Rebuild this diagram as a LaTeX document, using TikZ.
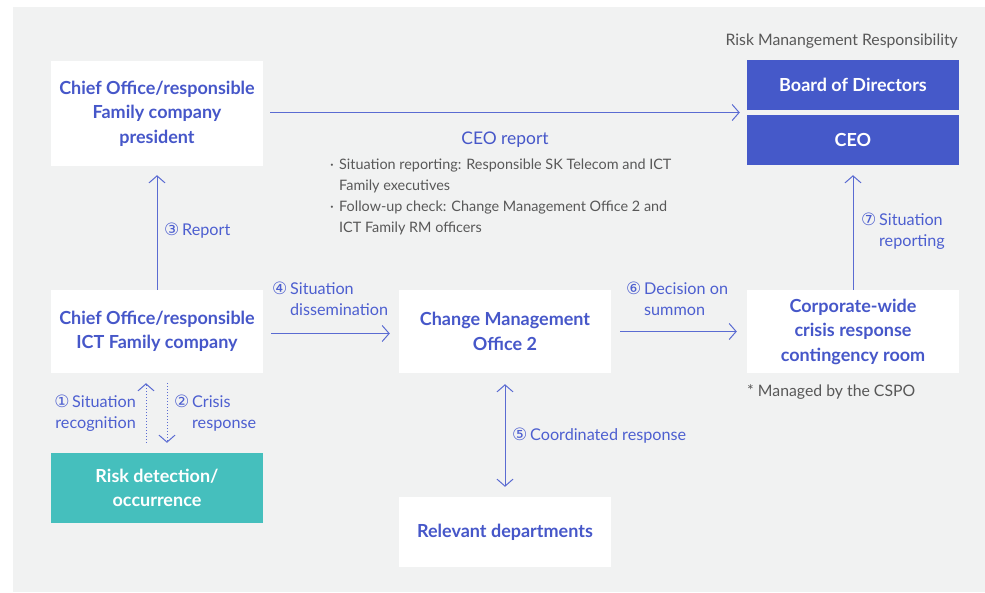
\documentclass[tikz,border=0pt]{standalone}
\usepackage{fontspec}
\setmainfont{Lato}
\newfontfamily\circfont{DejaVu Sans}
\usetikzlibrary{arrows.meta,calc}
\definecolor{bgray}{HTML}{F1F2F2}
\definecolor{titleblue}{HTML}{4657C9}
\definecolor{fillblue}{HTML}{4559C9}
\definecolor{lblblue}{HTML}{4D5FD0}
\definecolor{arrblue}{HTML}{5A6BD2}
\definecolor{tealc}{HTML}{45BFBD}
\definecolor{txtgray}{HTML}{585858}
\newcommand{\cn}[1]{{\circfont\fontsize{17}{17}\selectfont #1}\,}
\tikzset{
  whitebox/.style={fill=white, draw=none, inner sep=0pt, minimum width=212pt, align=center,
    text=titleblue, font=\fontsize{18}{24.5}\selectfont\bfseries},
  bluebox/.style={fill=fillblue, draw=none, inner sep=0pt, minimum width=212pt, minimum height=50pt,
    text=white, font=\fontsize{18}{24.5}\selectfont\bfseries},
  tealbox/.style={fill=tealc, draw=none, inner sep=0pt, minimum width=212pt, minimum height=70pt,
    align=center, text=white, font=\fontsize{18}{24.5}\selectfont\bfseries},
  lbl/.style={inner sep=0pt, text=lblblue, font=\fontsize{16.2}{21}\selectfont},
  graytxt/.style={inner sep=0pt, text=txtgray, font=\fontsize{14.4}{21}\selectfont},
  conn/.style={draw=arrblue, line width=1pt, -{Straight Barb[length=7pt,width=16pt,line width=1pt]}},
  dconn/.style={conn, dotted},
}
\begin{document}
\begin{tikzpicture}[x=1pt,y=-1pt]
\useasboundingbox (0,0) rectangle (985,592);
\fill[bgray] (13,7) rectangle (985,592);

% boxes
\node[whitebox, minimum height=105pt] (pres) at (157,113.5) {Chief Office/responsible\\Family company\\president};
\node[bluebox] (board) at (853,85) {Board of Directors};
\node[bluebox] (ceo) at (853,140) {CEO};
\node[whitebox, minimum height=83pt] (ictco) at (157,331.5) {Chief Office/responsible\\ICT Family company};
\node[whitebox, minimum height=83pt] (cmo) at (505,331.5) {Change Management\\Office 2};
\node[whitebox, minimum height=83pt] (crisis) at (853,331.5) {Corporate-wide\\crisis response\\contingency room};
\node[tealbox] (risk) at (157,488) {Risk detection/\\occurrence};
\node[whitebox, minimum height=70pt] (rel) at (505,532) {Relevant departments};

\coordinate (gap) at ($(board.south west)!0.5!(ceo.north west)$);

% connectors
\draw[conn] ([xshift=7pt]pres.east |- gap) -- ([xshift=-7pt]gap);
\draw[conn] (ictco.north) -- ([yshift=-9pt]pres.south);
\draw[conn] ([xshift=8pt,yshift=-2pt]ictco.east) -- ([xshift=-9pt,yshift=-2pt]cmo.west);
\draw[conn] ([xshift=9pt]cmo.east) -- ([xshift=-10pt]crisis.west);
\draw[conn] (crisis.north) -- ([yshift=-10pt]ceo.south);
\draw[dconn] ([xshift=-11pt,yshift=10pt]risk.north) -- ([xshift=-11pt,yshift=-10pt]ictco.south);
\draw[dconn] ([xshift=10pt,yshift=-10pt]ictco.south) -- ([xshift=10pt,yshift=10pt]risk.north);
\draw[conn, {Straight Barb[length=7pt,width=16pt,line width=1pt]}-{Straight Barb[length=7pt,width=16pt,line width=1pt]}] ([yshift=-11pt]cmo.south) -- ([yshift=10pt]rel.north);

% labels
\node[inner sep=0pt, text=titleblue, font=\fontsize{17.4}{21}\selectfont] (ceorep) at (505,140) {CEO report};
\node[graytxt, anchor=north west, align=left] (bul) at (330,159) {%
  \makebox[9pt][l]{·}Situation reporting: Responsible SK Telecom and ICT\\
  \hspace*{9pt}Family executives\\
  \makebox[9pt][l]{·}Follow-up check: Change Management Office 2 and\\
  \hspace*{9pt}ICT Family RM officers};
\node[graytxt, anchor=east, font=\fontsize{15.8}{21}\selectfont] (rmr) at (958,41) {Risk Manangement Responsibility};
\node[lbl, anchor=west] (l3) at (164,231) {\cn{③}Report};
\node[lbl, anchor=north west, align=left] (l4) at (272,282) {\cn{④}Situation\\\hphantom{\cn{④}}dissemination};
\node[lbl, anchor=north west, align=left] (l6) at (626,282) {\cn{⑥}Decision on\\\hphantom{\cn{⑥}}summon};
\node[lbl, anchor=north west, align=left] (l7) at (861,213) {\cn{⑦}Situation\\\hphantom{\cn{⑦}}reporting};
\node[lbl, anchor=north east, align=right] (l1) at (136,395) {\cn{①}Situation\\recognition};
\node[lbl, anchor=north west, align=left] (l2) at (174,395) {\cn{②}Crisis\\\hphantom{\cn{②}}response};
\node[lbl, anchor=west] (l5) at (512,436) {\cn{⑤}Coordinated response};
\node[graytxt, anchor=west, font=\fontsize{15.8}{21}\selectfont] (note) at (747,392) {* Managed by the CSPO};
\end{tikzpicture}
\end{document}
